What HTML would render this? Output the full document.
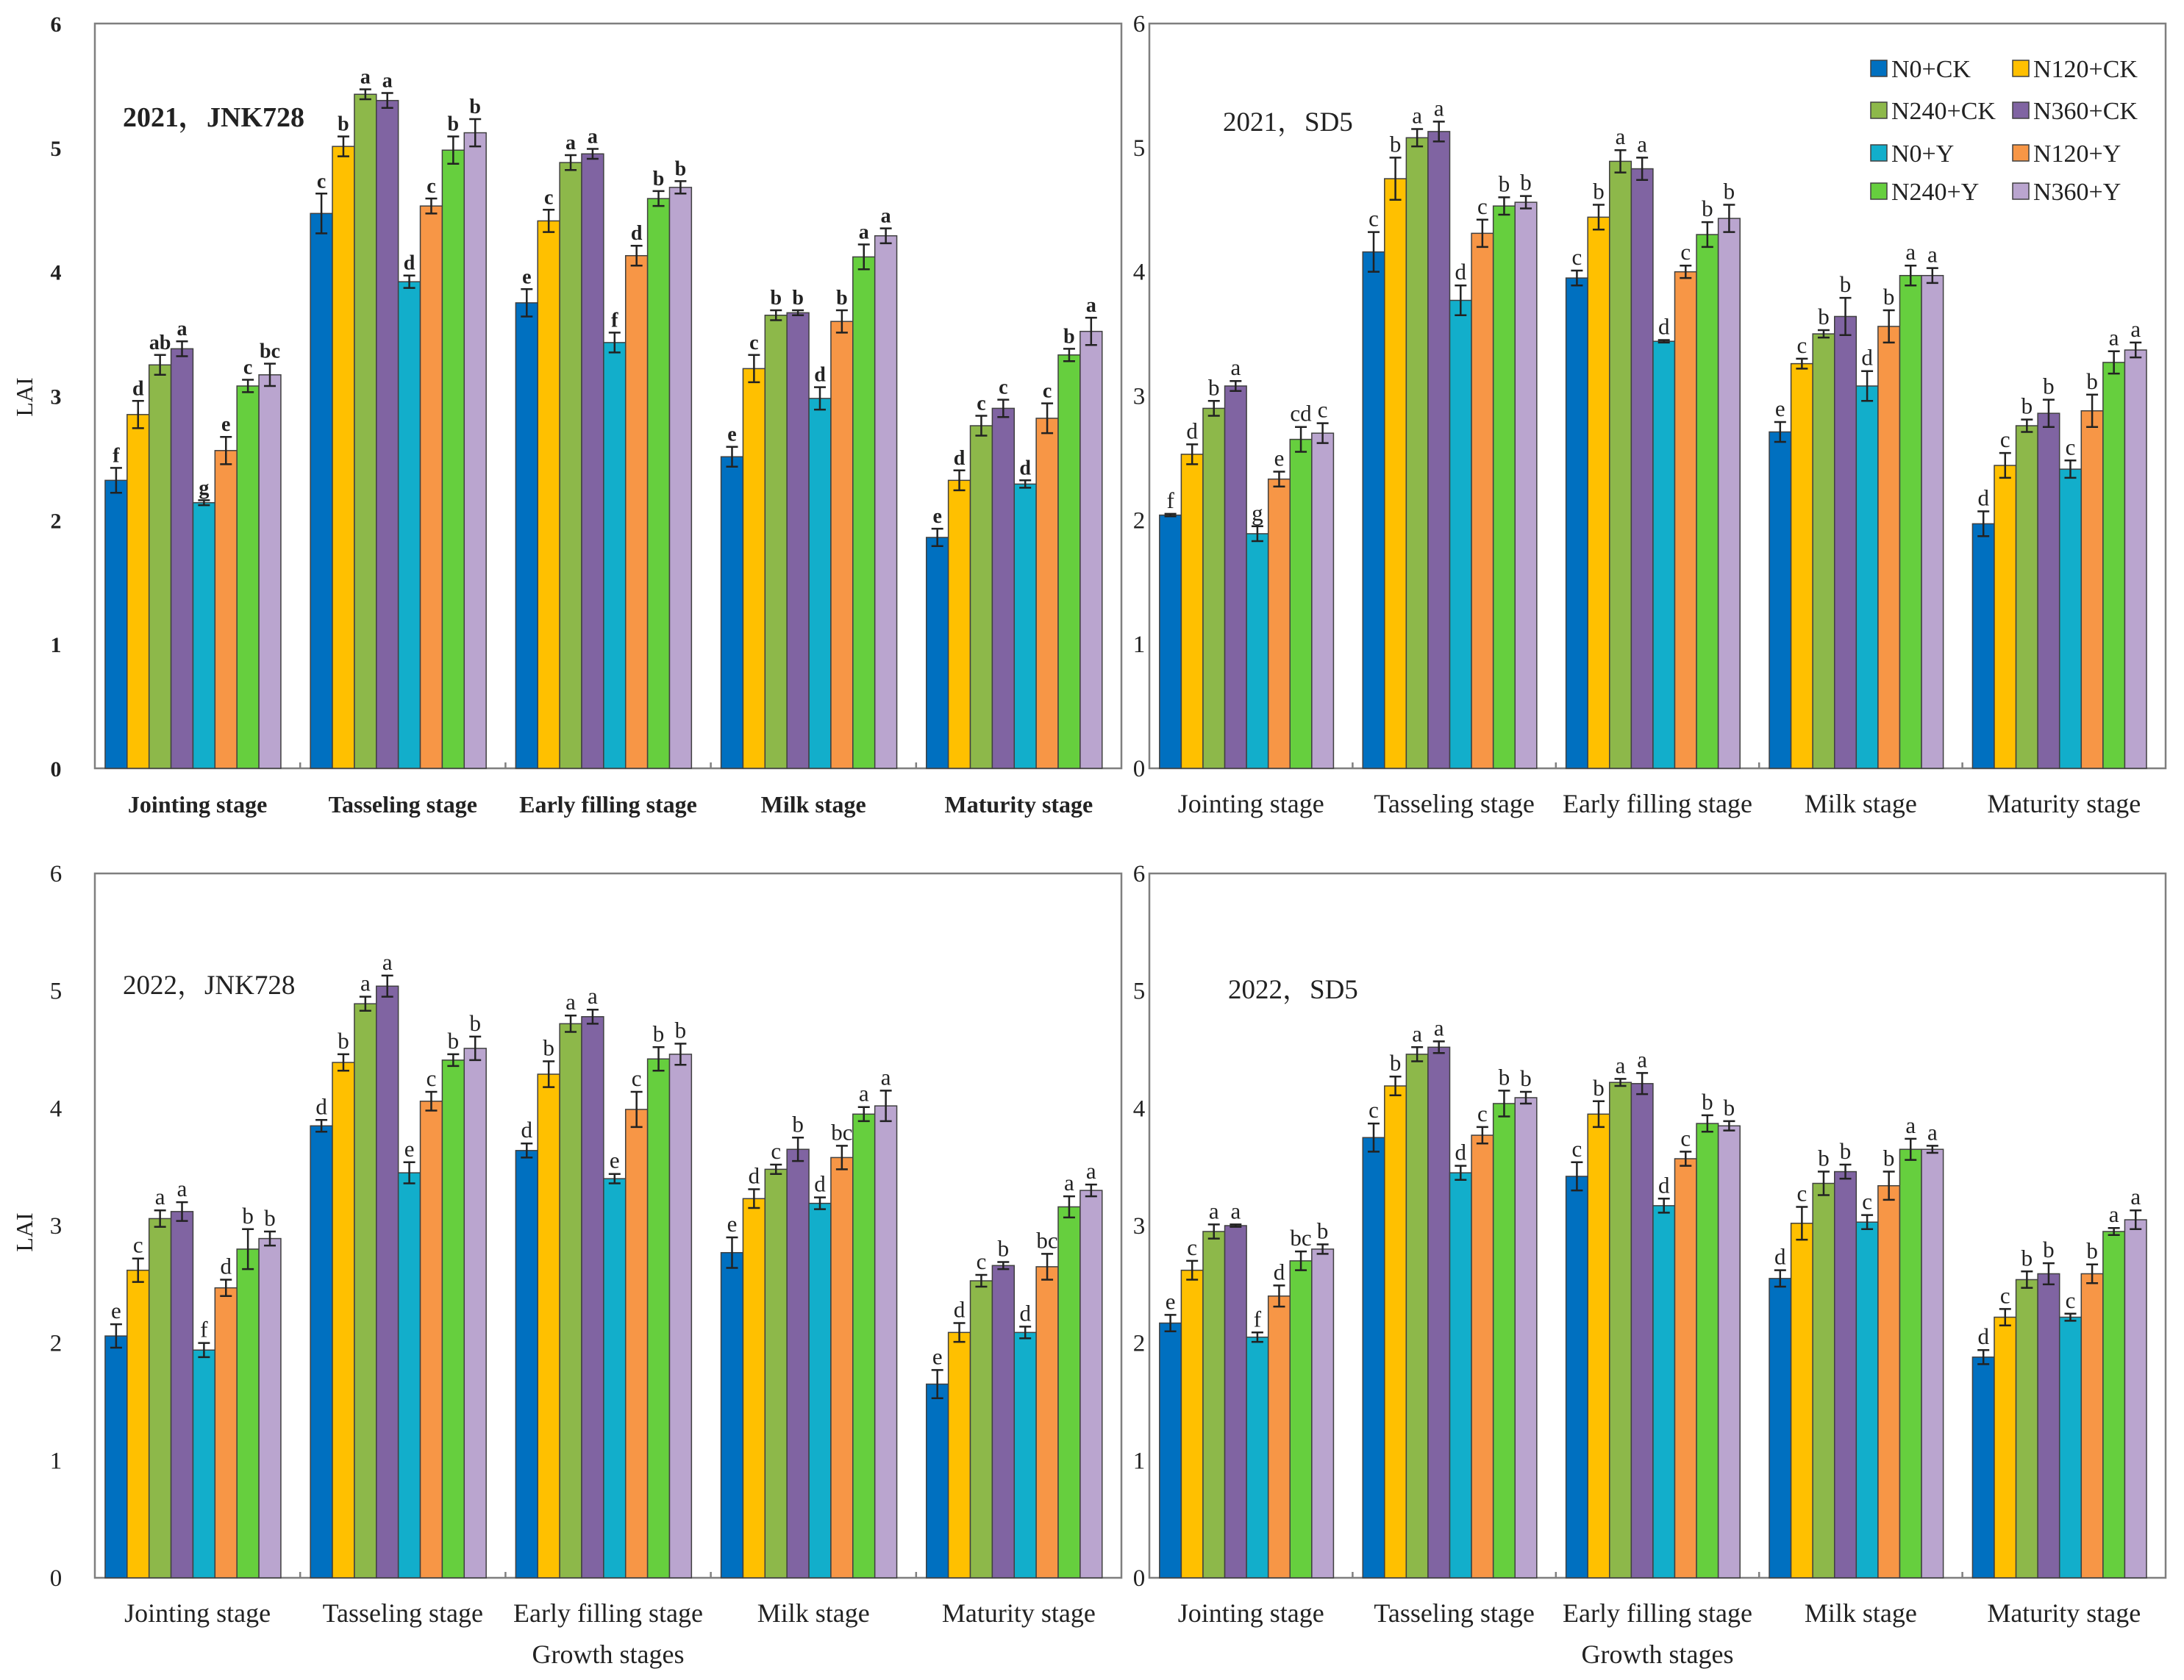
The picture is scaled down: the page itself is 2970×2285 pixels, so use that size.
<!DOCTYPE html>
<html><head><meta charset="utf-8">
<style>
html,body{margin:0;padding:0;background:#fff;}
svg{display:block;font-family:"Liberation Serif","Noto Serif CJK SC",serif;}
</style></head>
<body>
<svg id="chart" width="2970" height="2285" viewBox="0 0 2970 2285" xmlns="http://www.w3.org/2000/svg">
<rect width="2970" height="2285" fill="#fff"/>
</svg>
<script>
const stages = ["Jointing stage","Tasseling stage","Early filling stage","Milk stage","Maturity stage"];
const seriesNames = ["N0+CK","N120+CK","N240+CK","N360+CK","N0+Y","N120+Y","N240+Y","N360+Y"];
const seriesColors = ["#0070C0","#FFC000","#8DB84A","#8064A2","#12AECB","#F79646","#66CF3E","#BAA5CF"];
const yTicks = [0,1,2,3,4,5,6];

// 2021 JNK728
const v21J = [
 [2.32,2.85,3.25,3.38,2.14,2.56,3.08,3.17],
 [4.47,5.01,5.43,5.38,3.92,4.53,4.98,5.12],
 [3.75,4.41,4.88,4.95,3.43,4.13,4.59,4.68],
 [2.51,3.22,3.65,3.67,2.98,3.60,4.12,4.29],
 [1.86,2.32,2.76,2.90,2.29,2.82,3.33,3.52]];
const e21J = [
 [0.10,0.11,0.08,0.06,0.02,0.11,0.05,0.09],
 [0.16,0.08,0.04,0.06,0.05,0.06,0.11,0.11],
 [0.11,0.09,0.06,0.04,0.08,0.08,0.06,0.05],
 [0.08,0.11,0.04,0.02,0.09,0.09,0.10,0.06],
 [0.07,0.08,0.08,0.07,0.03,0.12,0.05,0.11]];
const l21J = [
 ["f","d","ab","a","g","e","c","bc"],
 ["c","b","a","a","d","c","b","b"],
 ["e","c","a","a","f","d","b","b"],
 ["e","c","b","b","d","b","a","a"],
 ["e","d","c","c","d","c","b","a"]];

// 2021 SD5
const v21S = [
 [2.04,2.53,2.90,3.08,1.89,2.33,2.65,2.70],
 [4.16,4.75,5.08,5.13,3.77,4.31,4.53,4.56],
 [3.95,4.44,4.89,4.83,3.44,4.00,4.30,4.43],
 [2.71,3.26,3.50,3.64,3.08,3.56,3.97,3.97],
 [1.97,2.44,2.76,2.86,2.41,2.88,3.27,3.37]];
const e21S = [
 [0.01,0.08,0.06,0.04,0.06,0.06,0.10,0.08],
 [0.16,0.17,0.07,0.08,0.12,0.11,0.07,0.05],
 [0.06,0.10,0.09,0.09,0.01,0.05,0.10,0.11],
 [0.08,0.04,0.03,0.15,0.12,0.13,0.08,0.06],
 [0.10,0.10,0.05,0.11,0.07,0.13,0.09,0.06]];
const l21S = [
 ["f","d","b","a","g","e","cd","c"],
 ["c","b","a","a","d","c","b","b"],
 ["c","b","a","a","d","c","b","b"],
 ["e","c","b","b","d","b","a","a"],
 ["d","c","b","b","c","b","a","a"]];

// 2022 JNK728
const v22J = [
 [2.06,2.62,3.06,3.12,1.94,2.47,2.80,2.89],
 [3.85,4.39,4.89,5.04,3.45,4.06,4.41,4.51],
 [3.64,4.29,4.72,4.78,3.40,3.99,4.42,4.46],
 [2.77,3.23,3.48,3.65,3.19,3.58,3.95,4.02],
 [1.65,2.09,2.53,2.66,2.09,2.65,3.16,3.30]];
const e22J = [
 [0.10,0.10,0.07,0.08,0.06,0.07,0.17,0.06],
 [0.05,0.07,0.06,0.09,0.09,0.08,0.05,0.10],
 [0.06,0.11,0.07,0.06,0.04,0.15,0.10,0.09],
 [0.13,0.08,0.04,0.10,0.05,0.10,0.06,0.13],
 [0.12,0.08,0.05,0.03,0.05,0.11,0.09,0.05]];
const l22J = [
 ["e","c","a","a","f","d","b","b"],
 ["d","b","a","a","e","c","b","b"],
 ["d","b","a","a","e","c","b","b"],
 ["e","d","c","b","d","bc","a","a"],
 ["e","d","c","b","d","bc","a","a"]];

// 2022 SD5
const v22S = [
 [2.17,2.62,2.95,3.00,2.05,2.40,2.70,2.80],
 [3.75,4.19,4.46,4.52,3.45,3.77,4.04,4.09],
 [3.42,3.95,4.22,4.21,3.17,3.57,3.87,3.85],
 [2.55,3.02,3.36,3.46,3.03,3.34,3.65,3.65],
 [1.88,2.22,2.54,2.59,2.22,2.59,2.95,3.05]];
const e22S = [
 [0.07,0.08,0.06,0.01,0.04,0.09,0.08,0.04],
 [0.12,0.08,0.06,0.05,0.06,0.07,0.11,0.05],
 [0.12,0.11,0.03,0.09,0.06,0.06,0.07,0.04],
 [0.07,0.14,0.10,0.06,0.06,0.12,0.09,0.03],
 [0.06,0.07,0.07,0.09,0.03,0.08,0.03,0.08]];
const l22S = [
 ["e","c","a","a","f","d","bc","b"],
 ["c","b","a","a","d","c","b","b"],
 ["c","b","a","a","d","c","b","b"],
 ["d","c","b","b","c","b","a","a"],
 ["d","c","b","b","c","b","a","a"]];

const NS = "http://www.w3.org/2000/svg";
const svg = document.getElementById("chart");
function mk(tag, attrs, parent, text){
  const el = document.createElementNS(NS, tag);
  for (const k in attrs) el.setAttribute(k, attrs[k]);
  if (text !== undefined) el.textContent = text;
  (parent||svg).appendChild(el);
  return el;
}

const panels = [
 {id:"2021-jnk728", title:"2021，JNK728", vals:v21J, errs:e21J, labs:l21J, x0:129, x1:1525, yt:32, yb:1045, tx:167, ty:172, tickX:76, laiY:540, gs:false, bold:true},
 {id:"2021-sd5", title:"2021，SD5", vals:v21S, errs:e21S, labs:l21S, x0:1563, x1:2945, yt:32, yb:1045, tx:1663, ty:178, tickX:1549, laiY:null, gs:false, bold:false},
 {id:"2022-jnk728", title:"2022，JNK728", vals:v22J, errs:e22J, labs:l22J, x0:129, x1:1525, yt:1188, yb:2146, tx:167, ty:1352, tickX:76, laiY:1676, gs:true, bold:false},
 {id:"2022-sd5", title:"2022，SD5", vals:v22S, errs:e22S, labs:l22S, x0:1563, x1:2945, yt:1188, yb:2146, tx:1670, ty:1358, tickX:1549, laiY:null, gs:true, bold:false}
];

panels.forEach(p => {
  const g = mk("g", {});
  
  
  const y = v => p.yb - (v/6)*(p.yb - p.yt);
  const cw = (p.x1 - p.x0)/5;
  const bw = cw*0.107;
  const xBar = (c,s) => p.x0 + c*cw + cw*0.05 + s*bw;
  const fw = p.bold ? "bold" : "normal";
  const fTick = p.bold ? 30 : 33;
  const fCat = p.bold ? 32 : 36;
  const fLet = p.bold ? 28 : 31;
  const fTitle = p.bold ? 38 : 37;

  const fr = mk("rect", {x:p.x0, y:p.yt, width:p.x1-p.x0, height:p.yb-p.yt, fill:"none", stroke:"#7f7f7f", "stroke-width":2.5}, g);
  
  

  yTicks.forEach(t => {
    const tl = mk("text", {x:p.tickX, y:y(t)+11, "font-size":fTick, "text-anchor":"middle", fill:"#222", "font-weight":fw}, g, String(t));
    
    
  });
  for (let c=1;c<5;c++){
    const xt = p.x0 + c*cw;
    mk("line", {x1:xt, x2:xt, y1:p.yb, y2:p.yb-8, stroke:"#7f7f7f", "stroke-width":2.5}, g);
  }
  if (p.laiY){
    const la = mk("text", {x:34, y:p.laiY, "font-size":32, "text-anchor":"middle", transform:`rotate(-90 34 ${p.laiY})`, dy:10, fill:"#222"}, g, "LAI");
    
    
  }
  const tt = mk("text", {x:p.tx, y:p.ty, "font-size":fTitle, fill:"#222", "font-weight":fw}, g, p.title);
  
  

  p.vals.forEach((row, c) => {
    row.forEach((v, s) => {
      const bx = xBar(c,s);
      const r = mk("rect", {x:bx, y:y(v), width:bw, height:p.yb-y(v), fill:seriesColors[s], stroke:"#404040", "stroke-width":1.5}, g);
      
      
      const e = p.errs[c][s];
      const cx = bx + bw/2;
      const eb = mk("path", {d:`M${cx},${y(v+e)}V${y(v-e)}M${cx-8},${y(v+e)}H${cx+8}M${cx-8},${y(v-e)}H${cx+8}`, stroke:"#222", "stroke-width":2.5, fill:"none"}, g);
      
      
      const lt = mk("text", {x:cx, y:y(v+e)-8, "font-size":fLet, "text-anchor":"middle", fill:"#222", "font-weight":fw}, g, p.labs[c][s]);
      
      
    });
    const cl = mk("text", {x:p.x0 + c*cw + cw/2, y:p.yb+60, "font-size":fCat, "text-anchor":"middle", fill:"#222", "font-weight":fw}, g, stages[c]);
    
    
  });
  if (p.gs){
    const gt = mk("text", {x:(p.x0+p.x1)/2, y:p.yb+116, "font-size":36, "text-anchor":"middle", fill:"#222"}, g, "Growth stages");
    
    
  }
});

const lg = mk("g", {});


const legX = [2544, 2737];
const legY = [93, 150, 208, 260];
seriesNames.forEach((n, i) => {
  const col = i % 2, row = Math.floor(i/2);
  const eg = mk("g", {}, lg);
  
  
  mk("rect", {x:legX[col], y:legY[row]-11, width:22, height:22, fill:seriesColors[i], stroke:"#404040", "stroke-width":1.5}, eg);
  mk("text", {x:legX[col]+28, y:legY[row]+12, "font-size":34, fill:"#222"}, eg, n);
});
</script>
</body></html>
